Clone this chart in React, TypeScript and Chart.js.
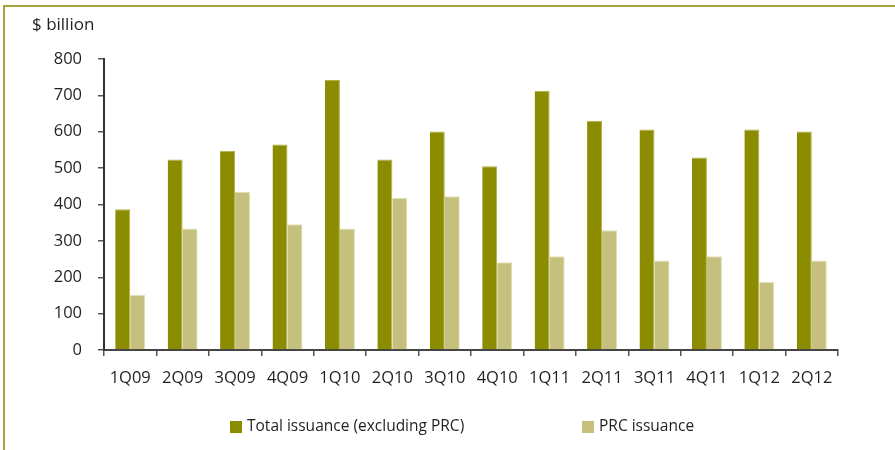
import React, { useEffect, useRef } from "react";
import { Chart, registerables } from "chart.js";

Chart.register(...registerables);

const categories = ["1Q09", "2Q09", "3Q09", "4Q09", "1Q10", "2Q10", "3Q10", "4Q10", "1Q11", "2Q11", "3Q11", "4Q11", "1Q12", "2Q12"];
const totalIssuance = [387, 524, 548, 565, 742, 524, 601, 505, 713, 630, 606, 529, 606, 601];
const prcIssuance = [151, 334, 435, 346, 334, 418, 423, 241, 258, 329, 246, 258, 187, 246];
const seriesLabels = ["Total issuance (excluding PRC)", "PRC issuance"];
const yMin = 0;
const yMax = 800;
const yStep = 100;
const unitLabel = "$ billion";

const DARK = "#8c8c00";
const LIGHT = "#c5c07d";
const TEXT = "#231f20";
const FONT = "'Open Sans', sans-serif";

const decor = {
  id: "decor",
  beforeDraw(chart: any) {
    const ctx = chart.ctx;
    ctx.save();
    ctx.fillStyle = "#ffffff";
    ctx.fillRect(0, 0, chart.width, chart.height);
    ctx.fillStyle = "#a9a23a";
    ctx.fillRect(3, 5, chart.width - 3, 2);
    ctx.fillRect(3, 5, 2, chart.height - 5);
    ctx.restore();
  },
  afterDraw(chart: any) {
    const ctx = chart.ctx;
    ctx.save();
    ctx.fillStyle = TEXT;
    ctx.font = `17px ${FONT}`;
    ctx.textBaseline = "middle";
    ctx.textAlign = "left";
    ctx.fillText(unitLabel, 32, 25);
    const xs = [230, 582];
    ctx.font = `15.5px ${FONT}`;
    chart.data.datasets.forEach((ds: any, i: number) => {
      ctx.fillStyle = ds.backgroundColor;
      ctx.fillRect(xs[i], 421, 12, 12);
      ctx.fillStyle = TEXT;
      ctx.fillText(ds.label, xs[i] + 17, 427);
    });
    ctx.restore();
  },
};

export default function App() {
  const ref = useRef<HTMLCanvasElement | null>(null);
  useEffect(() => {
    if (!ref.current) return;
    const chart = new Chart(ref.current, {
      type: "bar",
      data: {
        labels: categories,
        datasets: [
          {
            label: seriesLabels[0],
            data: totalIssuance,
            backgroundColor: DARK,
            borderColor: "#b3b04a",
            borderWidth: { top: 1, right: 1, left: 0, bottom: 0 },
            categoryPercentage: 0.572,
            barPercentage: 1,
          },
          {
            label: seriesLabels[1],
            data: prcIssuance,
            backgroundColor: LIGHT,
            borderColor: "#e2dfb6",
            borderWidth: { top: 1, right: 1, left: 0, bottom: 0 },
            categoryPercentage: 0.572,
            barPercentage: 1,
          },
        ],
      },
      options: {
        responsive: false,
        animation: false,
        layout: { padding: { top: 59, right: 57, bottom: 60, left: 0 } },
        plugins: { legend: { display: false }, tooltip: { enabled: false }, title: { display: false } },
        scales: {
          x: {
            offset: true,
            grid: { display: true, drawOnChartArea: false, drawTicks: true, tickLength: 6, color: "#555", lineWidth: 1.5, offset: true },
            border: { display: true, color: "#444", width: 2 },
            ticks: { color: TEXT, font: { family: FONT, size: 16.5 }, padding: 12, maxRotation: 0, autoSkip: false },
            afterFit(scale: any) {
              scale.height = 40;
            },
          },
          y: {
            min: yMin,
            max: yMax,
            grid: { display: true, drawOnChartArea: false, drawTicks: true, tickLength: 6, color: "#555", lineWidth: 1.5 },
            border: { display: true, color: "#333", width: 2 },
            ticks: { stepSize: yStep, color: TEXT, font: { family: FONT, size: 16.5 }, padding: 16 },
            afterFit(scale: any) {
              scale.width = 104;
            },
          },
        },
      },
      plugins: [decor],
    });
    return () => chart.destroy();
  }, []);
  return (
    <div style={{ position: "fixed", left: 0, top: 0, width: 895, height: 450, background: "#fff" }}>
      <canvas ref={ref} width={895} height={450} style={{ display: "block", width: 895, height: 450 }} />
    </div>
  );
}
